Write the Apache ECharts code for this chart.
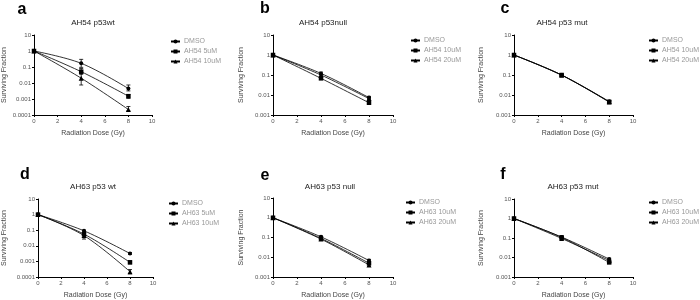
<!DOCTYPE html>
<html>
<head>
<meta charset="utf-8">
<script src="https://cdn.jsdelivr.net/npm/echarts@6/dist/echarts.min.js"></script>
<style>html,body{margin:0;padding:0;background:#fff}#c{width:700px;height:300px}</style>
</head>
<body>
<div id="c"></div>
<script>
// ---- data ----
const doses = [0, 4, 8];
const xTicks = [0, 2, 4, 6, 8, 10];

const panelLetters = ['a', 'b', 'c', 'd', 'e', 'f'];
const panelTitles = ['AH54 p53wt', 'AH54 p53null', 'AH54 p53 mut', 'AH63 p53 wt', 'AH63 p53 null', 'AH63 p53 mut'];
const panelSeriesNames = [
  ['DMSO', 'AH54 5uM', 'AH54 10uM'],
  ['DMSO', 'AH54 10uM', 'AH54 20uM'],
  ['DMSO', 'AH54 10uM', 'AH54 20uM'],
  ['DMSO', 'AH63 5uM', 'AH63 10uM'],
  ['DMSO', 'AH63 10uM', 'AH63 20uM'],
  ['DMSO', 'AH63 10uM', 'AH63 20uM']
];
const panelYMin = [0.0001, 0.001, 0.001, 0.0001, 0.001, 0.001];
const yMax = 10;

// panel a
const a_s1 = [1, 0.17, 0.0045];
const a_s2 = [1, 0.051, 0.0015];
const a_s3 = [1, 0.02, 0.00022];
const a_s1_lo = [null, 0.095, 0.0032], a_s1_hi = [null, 0.30, 0.0075];
const a_s2_lo = [null, 0.035, 0.0011], a_s2_hi = [null, 0.08, 0.0019];
const a_s3_lo = [null, 0.0075, 0.00018], a_s3_hi = [null, 0.04, 0.00034];
// panel b
const b_s1 = [1, 0.12, 0.0074];
const b_s2 = [1, 0.068, 0.0041];
const b_s3 = [1, 0.1, 0.0066];
const b_s1_lo = [null, 0.105, 0.0065], b_s1_hi = [null, 0.14, 0.0085];
const b_s2_lo = [null, 0.06, 0.0036], b_s2_hi = [null, 0.077, 0.0047];
const b_s3_lo = [null, 0.09, 0.0058], b_s3_hi = [null, 0.112, 0.0075];
// panel c
const c_s1 = [1, 0.1, 0.0047];
const c_s2 = [1, 0.1, 0.0044];
const c_s3 = [1, 0.098, 0.0046];
const c_s1_lo = [null, 0.09, 0.0038], c_s1_hi = [null, 0.11, 0.0056];
const c_s2_lo = [null, 0.09, 0.0037], c_s2_hi = [null, 0.11, 0.0052];
const c_s3_lo = [null, 0.088, 0.004], c_s3_hi = [null, 0.108, 0.0054];
// panel d
const d_s1 = [1, 0.091, 0.0032];
const d_s2 = [1, 0.056, 0.00087];
const d_s3 = [1, 0.045, 0.00022];
const d_s1_lo = [null, 0.08, 0.0028], d_s1_hi = [null, 0.1, 0.0037];
const d_s2_lo = [null, 0.045, 0.0007], d_s2_hi = [null, 0.066, 0.0011];
const d_s3_lo = [null, 0.027, 0.00016], d_s3_hi = [null, 0.06, 0.0003];
// panel e
const e_s1 = [1, 0.108, 0.0068];
const e_s2 = [1, 0.09, 0.005];
const e_s3 = [1, 0.083, 0.0041];
const e_s1_lo = [null, 0.095, 0.006], e_s1_hi = [null, 0.12, 0.0078];
const e_s2_lo = [null, 0.08, 0.0043], e_s2_hi = [null, 0.1, 0.0058];
const e_s3_lo = [null, 0.075, 0.0036], e_s3_hi = [null, 0.092, 0.0047];
// panel f
const f_s1 = [1, 0.112, 0.0083];
const f_s2 = [1, 0.107, 0.0056];
const f_s3 = [1, 0.095, 0.007];
const f_s1_lo = [null, 0.1, 0.0074], f_s1_hi = [null, 0.125, 0.0092];
const f_s2_lo = [null, 0.095, 0.005], f_s2_hi = [null, 0.12, 0.0063];
const f_s3_lo = [null, 0.085, 0.0062], f_s3_hi = [null, 0.105, 0.0078];

const panelData = [
  [[a_s1, a_s1_lo, a_s1_hi], [a_s2, a_s2_lo, a_s2_hi], [a_s3, a_s3_lo, a_s3_hi]],
  [[b_s1, b_s1_lo, b_s1_hi], [b_s2, b_s2_lo, b_s2_hi], [b_s3, b_s3_lo, b_s3_hi]],
  [[c_s1, c_s1_lo, c_s1_hi], [c_s2, c_s2_lo, c_s2_hi], [c_s3, c_s3_lo, c_s3_hi]],
  [[d_s1, d_s1_lo, d_s1_hi], [d_s2, d_s2_lo, d_s2_hi], [d_s3, d_s3_lo, d_s3_hi]],
  [[e_s1, e_s1_lo, e_s1_hi], [e_s2, e_s2_lo, e_s2_hi], [e_s3, e_s3_lo, e_s3_hi]],
  [[f_s1, f_s1_lo, f_s1_hi], [f_s2, f_s2_lo, f_s2_hi], [f_s3, f_s3_lo, f_s3_hi]]
];

// ---- layout ----
const grids = [
  {left: 31, top: 35, width: 121, height: 80},
  {left: 273, top: 35, width: 120, height: 80},
  {left: 514, top: 35, width: 119, height: 80},
  {left: 35, top: 199, width: 118, height: 80},
  {left: 273, top: 198, width: 120, height: 80},
  {left: 514, top: 199, width: 119, height: 79}
];
const yNameGap = [26, 28, 29, 30, 28, 29];
const legendPos = [
  {left: 170, top: 38}, {left: 410, top: 37}, {left: 648, top: 37},
  {left: 168, top: 200}, {left: 405, top: 199}, {left: 648, top: 199}
];
const titlePos = [[93, 23], [323, 23], [562, 23], [93, 187], [330, 187], [573, 187]];
const letterPos = [[22, 10], [265, 9], [505, 9], [25, 175], [265, 176], [503, 175]];
const symbols = ['circle', 'rect', 'triangle'];
const symbolSizes = [4, 4.5, 5];

const FONT = '"Liberation Sans", Arial, sans-serif';

function fmtNum(v) { return String(parseFloat(Number(v).toPrecision(3))); }

function renderErr(params, api) {
  const x = api.value(0), lo = api.value(1), hi = api.value(2);
  const p1 = api.coord([x, hi]);
  const p2 = api.coord([x, lo]);
  const w = 2;
  const st = {stroke: '#000', lineWidth: 0.8};
  return {type: 'group', children: [
    {type: 'line', shape: {x1: p1[0], y1: p1[1], x2: p2[0], y2: p2[1]}, style: st},
    {type: 'line', shape: {x1: p1[0] - w, y1: p1[1], x2: p1[0] + w, y2: p1[1]}, style: st},
    {type: 'line', shape: {x1: p2[0] - w, y1: p2[1], x2: p2[0] + w, y2: p2[1]}, style: st}
  ]};
}

const option = {
  animation: false,
  backgroundColor: '#fff',
  textStyle: {fontFamily: FONT},
  grid: [], xAxis: [], yAxis: [], series: [], legend: [], graphic: []
};

for (let p = 0; p < 6; p++) {
  option.grid.push(Object.assign({containLabel: false}, grids[p]));
  option.xAxis.push({
    gridIndex: p, type: 'value', min: 0, max: 10, interval: 2,
    axisLine: {show: true, lineStyle: {color: '#000', width: 1}},
    axisTick: {show: true, length: 2, lineStyle: {color: '#000'}},
    axisLabel: {fontSize: 6, color: '#555', margin: 3, fontFamily: FONT},
    splitLine: {show: false},
    name: 'Radiation Dose (Gy)', nameLocation: 'middle', nameGap: 15,
    nameTextStyle: {fontSize: 7, color: '#444', fontFamily: FONT}
  });
  option.yAxis.push({
    gridIndex: p, type: 'log', logBase: 10, min: panelYMin[p], max: yMax,
    axisLine: {show: true, onZero: false, lineStyle: {color: '#000', width: 1}},
    axisTick: {show: true, length: 2, lineStyle: {color: '#000'}},
    minorTick: {show: false},
    axisLabel: {fontSize: 6, color: '#555', margin: 3, fontFamily: FONT, formatter: fmtNum},
    splitLine: {show: false},
    name: 'Surviving Fraction', nameLocation: 'middle', nameGap: yNameGap[p],
    nameTextStyle: {fontSize: 7, color: '#444', fontFamily: FONT}
  });
  const names = panelSeriesNames[p];
  const legendData = [];
  const errData = [];
  for (let s = 0; s < 3; s++) {
    const [vals, lo, hi] = panelData[p][s];
    const sname = panelLetters[p] + '|' + names[s];
    legendData.push(sname);
    option.series.push({
      type: 'line', name: sname, xAxisIndex: p, yAxisIndex: p,
      data: doses.map((d, i) => [d, vals[i]]),
      smooth: 0.35,
      symbol: symbols[s], symbolSize: symbolSizes[s],
      lineStyle: {color: '#000', width: 0.8},
      itemStyle: {color: '#000'},
      z: 3
    });
    doses.forEach((d, i) => { if (lo[i] != null) errData.push([d, lo[i], hi[i]]); });
  }
  option.series.push({
    type: 'custom', name: panelLetters[p] + '|err', xAxisIndex: p, yAxisIndex: p,
    renderItem: renderErr, data: errData, encode: {x: 0, y: [1, 2]}, z: 2
  });
  option.legend.push({
    data: legendData, orient: 'vertical', left: legendPos[p].left, top: legendPos[p].top,
    itemWidth: 9, itemHeight: 5, itemGap: 3, padding: 0,
    formatter: n => n.split('|')[1],
    textStyle: {fontSize: 7, color: '#999', fontFamily: FONT, padding: [0, 0, 0, -1]},
    selectedMode: false
  });
  option.graphic.push({
    type: 'text', x: titlePos[p][0], y: titlePos[p][1],
    style: {text: panelTitles[p], fontSize: 8, fill: '#222', fontFamily: FONT, textAlign: 'center', textVerticalAlign: 'middle'}
  });
  option.graphic.push({
    type: 'text', x: letterPos[p][0], y: letterPos[p][1],
    style: {text: panelLetters[p], fontSize: 16, fontWeight: 'bold', fill: '#000', fontFamily: FONT, textAlign: 'center', textVerticalAlign: 'middle'}
  });
}

const chart = echarts.init(document.getElementById('c'), null, {renderer: 'canvas'});
chart.setOption(option);
</script>
</body>
</html>
